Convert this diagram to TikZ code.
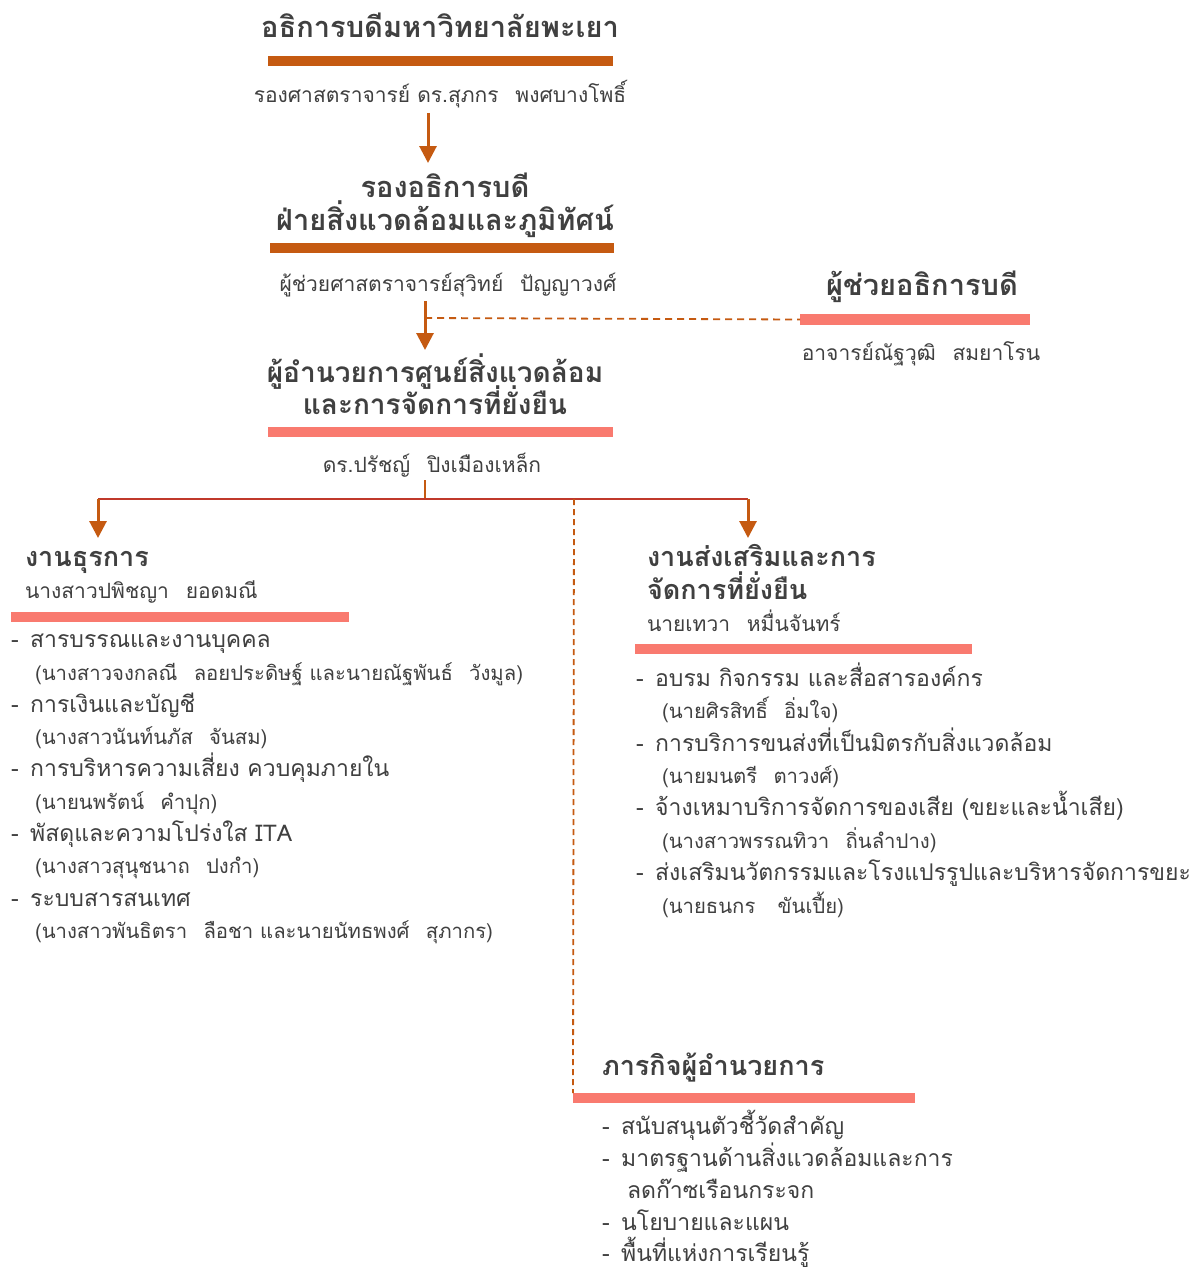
\documentclass[tikz,border=0pt]{standalone}
\usepackage{fontspec}
\setmainfont[Script=Thai]{Loma}
\usetikzlibrary{arrows.meta}
\definecolor{txt}{HTML}{404040}
\definecolor{dorange}{HTML}{C55A11}
\definecolor{salmon}{HTML}{F97A6F}
\definecolor{redline}{HTML}{C0392B}
\newcommand{\dsp}{-\hspace{0.5em}}
\begin{document}
\begin{tikzpicture}[x=1pt,y=-1pt,
  every node/.style={inner sep=0pt,outer sep=0pt,text=txt},
  ttl/.style={font=\fontsize{29}{32}\selectfont\bfseries},
  ttlb/.style={font=\fontsize{28}{31}\selectfont\bfseries},
  sh/.style={font=\fontsize{27}{30}\selectfont\bfseries},
  itm/.style={font=\fontsize{23}{26}\selectfont},
  nm/.style={font=\fontsize{21}{24}\selectfont},
  sub/.style={font=\fontsize{20.3}{23}\selectfont},
  barbox/.style={rectangle,fill=#1,draw=none,minimum height=10pt,anchor=north west},
  arr/.style={draw=dorange,line width=3pt,-{Triangle[length=17pt,width=17pt]}},
  dsh/.style={draw=dorange,line width=1.8pt,dash pattern=on 7pt off 5pt},
  hline/.style={draw=redline,line width=2pt}]
\useasboundingbox[fill=white] (0,0) rectangle (1199,1271);

% top
\node[ttl,anchor=base] (t1) at (440,38) {อธิการบดีมหาวิทยาลัยพะเยา};
\node[barbox=dorange,minimum width=345pt] (b1) at (268,56) {};
\node[nm,anchor=base] (n1) at (440,103) {รองศาสตราจารย์ ดร.สุภกร\hspace{0.8em}พงศบางโพธิ์};
\coordinate (a1s) at (428,113);
\coordinate (a1e) at (428,163);
\draw[arr] (a1s) -- (a1e);

\node[ttl,anchor=base] (t2a) at (445,197) {รองอธิการบดี};
\node[ttl,anchor=base] (t2b) at (445,230) {ฝ่ายสิ่งแวดล้อมและภูมิทัศน์};
\node[barbox=dorange,minimum width=344pt] (b2) at (270,243) {};
\node[nm,anchor=base] (n2) at (448,291) {ผู้ช่วยศาสตราจารย์สุวิทย์\hspace{0.8em}ปัญญาวงศ์};
\coordinate (a2s) at (425,301);
\coordinate (a2e) at (425,350);
\coordinate (dj) at (425,318);
\draw[arr] (a2s) -- (a2e);

% right assistant
\node[ttl,anchor=base] (t4) at (922,295) {ผู้ช่วยอธิการบดี};
\node[barbox=salmon,minimum width=230pt,minimum height=11pt] (b4) at (800,314) {};
\node[nm,anchor=base] (n4) at (921,360) {อาจารย์ณัฐวุฒิ\hspace{0.8em}สมยาโรน};
\draw[dsh] (dj) -- (b4.west);

% director
\node[ttlb,anchor=base] (t3a) at (435,382) {ผู้อำนวยการศูนย์สิ่งแวดล้อม};
\node[ttlb,anchor=base] (t3b) at (435,414) {และการจัดการที่ยั่งยืน};
\node[barbox=salmon,minimum width=345pt] (b3) at (268,427) {};
\node[nm,anchor=base] (n3) at (432,472) {ดร.ปรัชญ์\hspace{0.8em}ปิงเมืองเหล็ก};

% connectors
\coordinate (st) at (425,480);
\coordinate (hc) at (425,499);
\coordinate (hl) at (98,499);
\coordinate (hr) at (748,499);
\coordinate (hm) at (574,499);
\coordinate (la) at (98,538);
\coordinate (ra) at (748,538);
\draw[draw=dorange,line width=2.5pt] (st) -- (hc);
\draw[hline] (hl) -- (hr);
\draw[arr] (hl) -- (la);
\draw[arr] (hr) -- (ra);

% left section
\node[sh,anchor=base west] (lh) at (25,566) {งานธุรการ};
\node[nm,anchor=base west] (ln) at (25,598) {นางสาวปพิชญา\hspace{0.8em}ยอดมณี};
\node[barbox=salmon,minimum width=338pt] (lb) at (11,612) {};
\node[itm,anchor=base west] (l1) at (11,647) {\dsp สารบรรณและงานบุคคล};
\node[sub,anchor=base west] (l1s) at (35,680) {(นางสาวจงกลณี\hspace{0.8em}ลอยประดิษฐ์ และนายณัฐพันธ์\hspace{0.8em}วังมูล)};
\node[itm,anchor=base west] (l2) at (11,712) {\dsp การเงินและบัญชี};
\node[sub,anchor=base west] (l2s) at (35,744) {(นางสาวนันท์นภัส\hspace{0.8em}จันสม)};
\node[itm,anchor=base west] (l3) at (11,776) {\dsp การบริหารความเสี่ยง ควบคุมภายใน};
\node[sub,anchor=base west] (l3s) at (35,809) {(นายนพรัตน์\hspace{0.8em}คำปุก)};
\node[itm,anchor=base west] (l4) at (11,841) {\dsp พัสดุและความโปร่งใส ITA};
\node[sub,anchor=base west] (l4s) at (35,873) {(นางสาวสุนุชนาถ\hspace{0.8em}ปงกำ)};
\node[itm,anchor=base west] (l5) at (11,906) {\dsp ระบบสารสนเทศ};
\node[sub,anchor=base west] (l5s) at (35,938) {(นางสาวพันธิตรา\hspace{0.8em}ลือชา และนายนัทธพงศ์\hspace{0.8em}สุภากร)};

% right section
\node[sh,anchor=base west] (rh1) at (647,566) {งานส่งเสริมและการ};
\node[sh,anchor=base west] (rh2) at (647,599) {จัดการที่ยั่งยืน};
\node[nm,anchor=base west] (rn) at (647,631) {นายเทวา\hspace{0.8em}หมื่นจันทร์};
\node[barbox=salmon,minimum width=337pt] (rb) at (635,644) {};
\node[itm,anchor=base west] (r1) at (636,686) {\dsp อบรม กิจกรรม และสื่อสารองค์กร};
\node[sub,anchor=base west] (r1s) at (662,718) {(นายศิรสิทธิ์\hspace{0.8em}อิ่มใจ)};
\node[itm,anchor=base west] (r2) at (636,751) {\dsp การบริการขนส่งที่เป็นมิตรกับสิ่งแวดล้อม};
\node[sub,anchor=base west] (r2s) at (662,783) {(นายมนตรี\hspace{0.8em}ตาวงศ์)};
\node[itm,anchor=base west] (r3) at (636,815) {\dsp จ้างเหมาบริการจัดการของเสีย (ขยะและน้ำเสีย)};
\node[sub,anchor=base west] (r3s) at (662,848) {(นางสาวพรรณทิวา\hspace{0.8em}ถิ่นลำปาง)};
\node[itm,anchor=base west] (r4) at (636,880) {\dsp ส่งเสริมนวัตกรรมและโรงแปรรูปและบริหารจัดการขยะ};
\node[sub,anchor=base west] (r4s) at (662,913) {(นายธนกร\hspace{1.1em}ขันเปี้ย)};

% bottom section
\node[sh,anchor=base west] (bh) at (602,1075) {ภารกิจผู้อำนวยการ};
\node[barbox=salmon,minimum width=342pt] (bb) at (573,1093) {};
\draw[dsh,dash pattern=on 6pt off 4pt] (hm) -- (bb.north west);
\node[itm,anchor=base west] (m1) at (602,1134) {\dsp สนับสนุนตัวชี้วัดสำคัญ};
\node[itm,anchor=base west] (m2) at (602,1166) {\dsp มาตรฐานด้านสิ่งแวดล้อมและการ};
\node[itm,anchor=base west] (m2b) at (627,1198) {ลดก๊าซเรือนกระจก};
\node[itm,anchor=base west] (m3) at (602,1230) {\dsp นโยบายและแผน};
\node[itm,anchor=base west] (m4) at (602,1261) {\dsp พื้นที่แห่งการเรียนรู้};
\end{tikzpicture}
\end{document}
